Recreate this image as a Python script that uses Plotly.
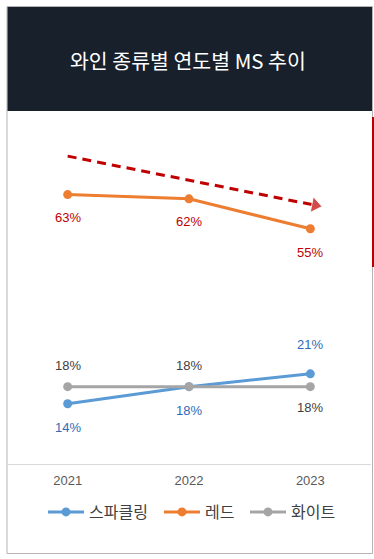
import plotly.graph_objects as go

# ---- data ----
years = ["2021", "2022", "2023"]
series_names = ["스파클링", "레드", "화이트"]
sparkling = [14, 18, 21]
red = [63, 62, 55]
white = [18, 18, 18]
label_sparkling = ["14%", "18%", "21%"]
label_red = ["63%", "62%", "55%"]
label_white = ["18%", "18%", "18%"]
trend_x = [0, 2.04]
trend_y = [72, 60.5]
title_text = "와인 종류별 연도별 MS 추이"

# ---- style ----
W, H = 374, 559
FONT = "Liberation Sans, Arial, Noto Sans CJK KR, sans-serif"
KFONT = "Noto Sans CJK KR, Liberation Sans, sans-serif"
colors = ["#5b9bd5", "#ed7d31", "#a5a5a5"]
label_colors = ["#2e6bb8", "#c00000", "#404040"]
label_shifts = [[-24, -24, 29], [-23, -23, -24], [21, 21, -21]]
legend_ids = ["legend", "legend2", "legend3"]
legend_px = [43, 159, 245]

def px_x(p):
    return p / W

def px_y(p):
    return (H - p) / H

xs = list(range(len(years)))
fig = go.Figure()
for name, vals, col, lg in zip(series_names, [sparkling, red, white], colors, legend_ids):
    fig.add_trace(go.Scatter(
        x=xs, y=vals, name=name, mode="lines+markers",
        line=dict(color=col, width=3),
        marker=dict(color=col, size=9),
        legend=lg, hoverinfo="skip",
    ))

fig.add_trace(go.Scatter(
    x=trend_x, y=trend_y, mode="lines+markers", showlegend=False,
    line=dict(color="#c00000", width=3, dash="9px,6px"),
    marker=dict(color="#c00000", size=[0, 14], symbol="triangle-up",
                angleref="previous"),
    hoverinfo="skip",
))

annotations = []
for vals, labels, col, shifts in zip([sparkling, red, white],
                                     [label_sparkling, label_red, label_white],
                                     label_colors, label_shifts):
    for i, (v, t) in enumerate(zip(vals, labels)):
        annotations.append(dict(
            x=xs[i], y=v, xref="x", yref="y", text=t, showarrow=False,
            yshift=shifts[i], font=dict(family=FONT, size=13, color=col),
        ))

annotations.append(dict(
    x=px_x(188), y=px_y(60), xref="paper", yref="paper", text=title_text,
    showarrow=False, xanchor="center", yanchor="middle",
    font=dict(family=KFONT, size=20.5, color="#ffffff"),
))

shapes = [
    dict(type="rect", xref="paper", yref="paper",
         x0=px_x(7), x1=px_x(372.5), y0=px_y(553.5), y1=px_y(6.5),
         line=dict(color="#b4b4b4", width=1), fillcolor="#ffffff", layer="below"),
    dict(type="rect", xref="paper", yref="paper",
         x0=px_x(7.5), x1=px_x(372), y0=px_y(111), y1=px_y(7),
         line=dict(width=0), fillcolor="#17202b", layer="below"),
    dict(type="rect", xref="paper", yref="paper",
         x0=px_x(372), x1=px_x(374), y0=px_y(267), y1=px_y(117),
         line=dict(width=0), fillcolor="#c00000", layer="below"),
]

legend_common = dict(orientation="h", xanchor="left", y=px_y(512), yanchor="middle",
                     font=dict(family=KFONT, size=16, color="#404040"),
                     bgcolor="rgba(0,0,0,0)", itemclick=False, itemwidth=36)
legend_layout = {lg: dict(legend_common, x=px_x(p)) for lg, p in zip(legend_ids, legend_px)}

fig.update_layout(
    width=W, height=H, autosize=False,
    margin=dict(l=0, r=0, t=0, b=0, pad=0),
    paper_bgcolor="#ffffff", plot_bgcolor="rgba(0,0,0,0)",
    showlegend=True,
    xaxis=dict(domain=[px_x(7), px_x(371)], range=[-0.5, 2.5],
               tickvals=xs, ticktext=years, showgrid=False, zeroline=False,
               showline=True, linecolor="#d9d9d9", linewidth=1,
               ticks="outside", ticklen=5, tickcolor="rgba(0,0,0,0)",
               tickfont=dict(family=FONT, size=13, color="#595959"),
               fixedrange=True),
    yaxis=dict(domain=[px_y(463.5), px_y(122)], range=[0, 80],
               visible=False, fixedrange=True),
    annotations=annotations, shapes=shapes,
    **legend_layout,
)

fig.write_html(
    "out.html",
    config={"displayModeBar": False},
    post_script="document.body.style.margin='0';document.body.style.overflow='hidden';",
)
